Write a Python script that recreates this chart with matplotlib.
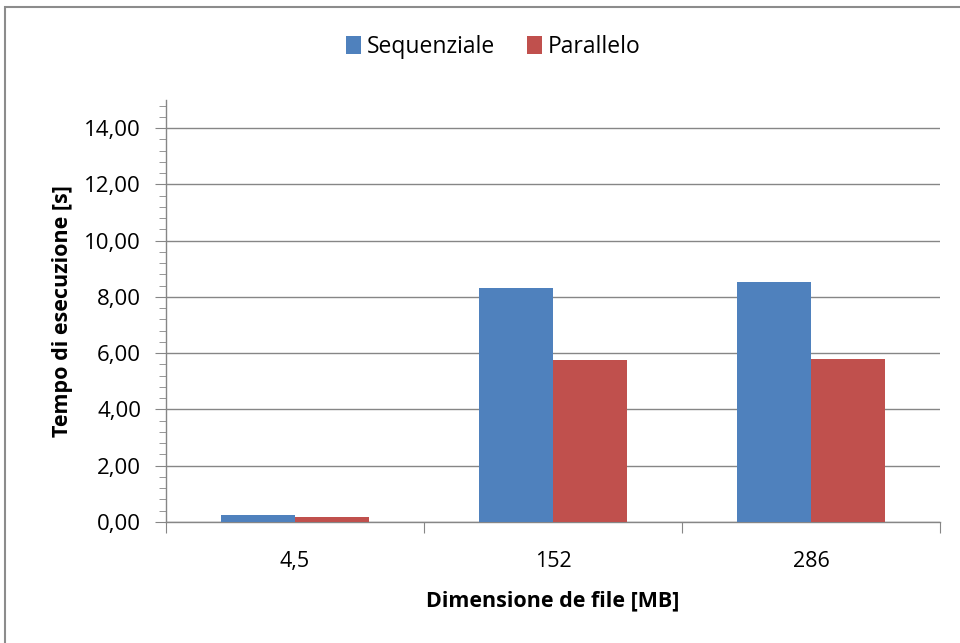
import numpy as np
import matplotlib.pyplot as plt
from matplotlib.ticker import MultipleLocator, FuncFormatter, FixedLocator
from matplotlib.patches import Rectangle

# tempi di esecuzione misurati [s]
dimensioni = ["4,5", "152", "286"]
sequenziale = [0.25, 8.32, 8.53]
parallelo = [0.16, 5.75, 5.81]

col_seq = "#4F81BD"
col_par = "#C0504D"
grid_col = "#868686"
font_size = 15.5

plt.rcParams['font.family'] = ['Open Sans', 'DejaVu Sans']

fig = plt.figure(figsize=(9.6, 6.43), dpi=100)
ax = fig.add_axes([166/960, 1 - 522/643, (940 - 166)/960, (522 - 100)/643])

x = np.arange(len(dimensioni))
w = 1 / 3.5  # gap width 150%
ax.bar(x - w/2, sequenziale, w, color=col_seq, label="Sequenziale", zorder=3)
ax.bar(x + w/2, parallelo, w, color=col_par, label="Parallelo", zorder=3)

ax.set_xlim(-0.5, len(dimensioni) - 0.5)
ax.set_ylim(0, 15)

ax.yaxis.set_major_locator(FixedLocator(np.arange(0, 15, 2)))
ax.yaxis.set_minor_locator(MultipleLocator(0.4))
ax.yaxis.set_major_formatter(FuncFormatter(lambda v, p: f"{v:.2f}".replace(".", ",")))
ax.grid(axis='y', color=grid_col, linewidth=1.0, zorder=0)

# tick di categoria ai bordi, etichette al centro
ax.xaxis.set_major_locator(FixedLocator(np.arange(-0.5, len(dimensioni), 1)))
ax.xaxis.set_major_formatter(FuncFormatter(lambda v, p: ""))
ax.xaxis.set_minor_locator(FixedLocator(x))
ax.set_xticklabels(dimensioni, minor=True)
ax.tick_params(axis='x', which='minor', length=0, pad=21, labelsize=font_size)
ax.tick_params(axis='x', which='major', length=8, color=grid_col, direction='out')
ax.tick_params(axis='y', which='major', length=8, color=grid_col, labelsize=font_size + 0.5, pad=10)
ax.tick_params(axis='y', which='minor', length=5, color=grid_col)

for s in ['top', 'right']:
    ax.spines[s].set_visible(False)
for s in ['left', 'bottom']:
    ax.spines[s].set_color(grid_col)
    ax.spines[s].set_linewidth(1.0)

ax.set_xlabel("Dimensione de file [MB]", fontsize=font_size, fontweight='bold', labelpad=13)
ax.set_ylabel("Tempo di esecuzione [s]", fontsize=font_size, fontweight='bold', labelpad=8)

fig.legend(loc='center', bbox_to_anchor=(0.514, 1 - 47/643), ncol=2, frameon=False,
           fontsize=16.5, handlelength=0.65, handleheight=0.85, handletextpad=0.25,
           columnspacing=1.4)

# cornice del grafico
fig.patches.append(Rectangle((5/960, -0.05), 1.1, 1 - 7/643 + 0.05, transform=fig.transFigure,
                             fill=False, edgecolor="#8c8c8c", linewidth=1.5))

fig.savefig("out.png", dpi=100)
